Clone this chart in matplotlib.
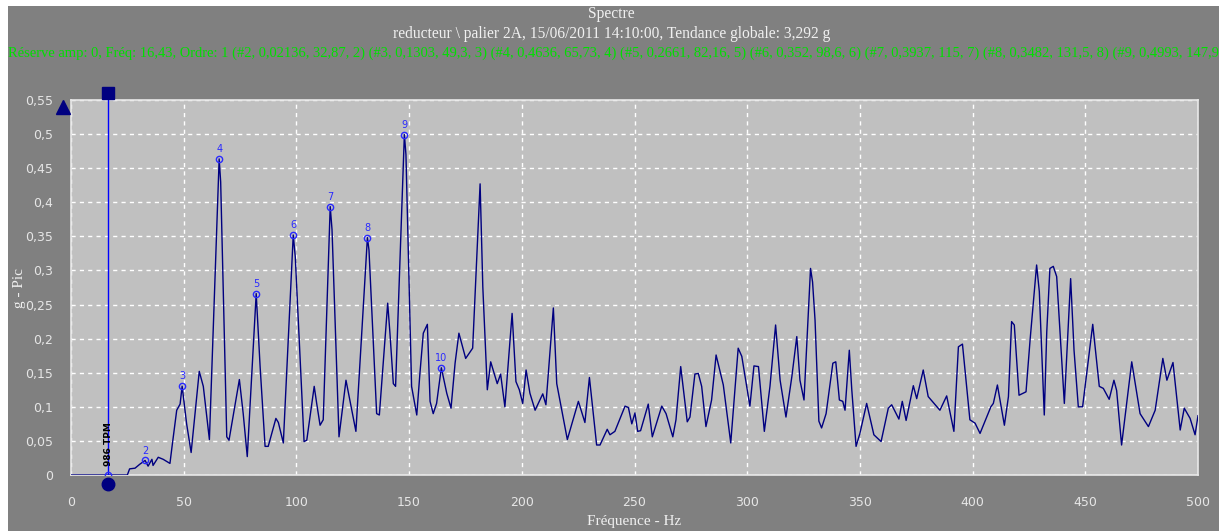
import matplotlib.pyplot as plt
from matplotlib.transforms import offset_copy

# spectrum vertices (Hz, g peak)
freq = [0, 25, 26, 28.4, 30.6, 32.87, 34.2, 35.9, 36.4, 38.7, 40.9, 43.9, 44.8, 46.9, 48.4,
        49.3, 51.3, 53.3, 56.9, 58.7, 61.4, 65.73, 66.4, 69.1, 70.1, 74.7, 76.4, 78.2, 82.16,
        83.9, 86.1, 87.5, 90.9, 92, 94.2, 98.6, 99.5, 103.4, 104.6, 107.9, 109, 110.5, 111.9,
        115, 115.8, 118.9, 122, 126.4, 131.5, 132.2, 135.6, 136.8, 140.5, 141.5, 143, 144,
        147.9, 148.6, 150.1, 151.1, 153.4, 154.8, 156.3, 158.1, 159.3, 160.7, 162.2, 164.3,
        166.7, 168.6, 170.4, 172.1, 175.1, 178.2, 181.5, 182.7, 184.7, 186.2, 189.1, 190.6,
        192.5, 195.7, 197.4, 198.9, 200.4, 201.9, 203.6, 205.9, 209.3, 210.7, 214, 215.5,
        220.2, 225.1, 228, 230, 233.2, 234.7, 237.9, 239.1, 241.3, 245.8, 247.3, 248.8, 250.2,
        251.4, 252.7, 256.1, 257.9, 262.1, 264, 267, 268.4, 270.5, 273.4, 274.6, 276.8, 278.3,
        279.8, 281.7, 284.2, 286.2, 289.4, 292.7, 296, 297.6, 301.2, 303, 305, 307.6, 310.1,
        312.6, 314.6, 317.2, 319.8, 322, 323.4, 325.2, 328.1, 329, 330.1, 331.8, 333, 335, 338,
        339.3, 340.9, 342.4, 343.4, 345.3, 346.4, 348.3, 350, 353, 356.2, 359.4, 362.6, 364.1,
        367.3, 368.8, 370.5, 373.7, 375.2, 378.1, 380.3, 385.5, 388.5, 391.7, 393.7, 395.5,
        398.8, 401.1, 403.3, 408.1, 409.2, 411, 414.1, 415.9, 417.3, 418.5, 420.6, 423.7,
        425.5, 428.4, 429.6, 431.8, 432.9, 434.3, 435.8, 437.3, 440.7, 443.5, 445, 446.9,
        448.8, 453.3, 456.2, 458, 460.6, 462.7, 463.9, 466.1, 470.6, 474.3, 478, 481, 484.4,
        486.2, 488.9, 492.1, 493.9, 496.5, 498.7, 500]
amp = [0, 0, 0.009, 0.01, 0.016, 0.02136, 0.013, 0.023, 0.014, 0.026, 0.023, 0.017, 0.041,
       0.095, 0.104, 0.1303, 0.075, 0.033, 0.152, 0.13, 0.052, 0.4636, 0.43, 0.056, 0.051,
       0.14, 0.09, 0.027, 0.2661, 0.159, 0.042, 0.042, 0.083, 0.077, 0.047, 0.352, 0.32,
       0.049, 0.051, 0.13, 0.105, 0.073, 0.081, 0.3937, 0.36, 0.056, 0.139, 0.064, 0.3482,
       0.33, 0.09, 0.088, 0.252, 0.208, 0.134, 0.13, 0.4993, 0.47, 0.266, 0.13, 0.088, 0.149,
       0.208, 0.221, 0.108, 0.09, 0.105, 0.1573, 0.12, 0.098, 0.164, 0.208, 0.171, 0.186,
       0.427, 0.276, 0.125, 0.166, 0.134, 0.148, 0.1, 0.237, 0.137, 0.125, 0.105, 0.154,
       0.12, 0.095, 0.119, 0.103, 0.245, 0.134, 0.052, 0.108, 0.077, 0.143, 0.044, 0.044,
       0.067, 0.059, 0.064, 0.101, 0.099, 0.075, 0.091, 0.064, 0.065, 0.104, 0.056, 0.101,
       0.09, 0.056, 0.081, 0.159, 0.078, 0.085, 0.148, 0.149, 0.13, 0.071, 0.11, 0.176,
       0.132, 0.047, 0.186, 0.174, 0.101, 0.16, 0.159, 0.064, 0.13, 0.22, 0.139, 0.085,
       0.144, 0.203, 0.139, 0.11, 0.303, 0.283, 0.227, 0.079, 0.069, 0.09, 0.164, 0.166,
       0.11, 0.108, 0.095, 0.183, 0.125, 0.042, 0.061, 0.105, 0.059, 0.049, 0.098, 0.103,
       0.082, 0.108, 0.08, 0.131, 0.112, 0.154, 0.115, 0.095, 0.116, 0.064, 0.188, 0.192,
       0.081, 0.076, 0.061, 0.1, 0.105, 0.132, 0.073, 0.115, 0.225, 0.22, 0.117, 0.122,
       0.198, 0.308, 0.269, 0.088, 0.21, 0.303, 0.306, 0.291, 0.105, 0.288, 0.183, 0.1,
       0.1, 0.221, 0.13, 0.127, 0.111, 0.139, 0.124, 0.044, 0.166, 0.09, 0.071, 0.095,
       0.171, 0.139, 0.165, 0.066, 0.098, 0.083, 0.059, 0.087]

# harmonic peaks: order, amplitude, frequency
peak_order = [2, 3, 4, 5, 6, 7, 8, 9, 10]
peak_amp = [0.02136, 0.1303, 0.4636, 0.2661, 0.352, 0.3937, 0.3482, 0.4993, 0.1573]
peak_freq = [32.87, 49.3, 65.73, 82.16, 98.6, 115, 131.5, 147.9, 164.3]

cursor_freq = 16.43
yticks = [0, 0.05, 0.1, 0.15, 0.2, 0.25, 0.3, 0.35, 0.4, 0.45, 0.5, 0.55]
xticks = [0, 50, 100, 150, 200, 250, 300, 350, 400, 450, 500]


def fr(v):
    return f"{v:g}".replace(".", ",")


W, H = 1223, 531
fig = plt.figure(figsize=(W / 100, H / 100), dpi=100, facecolor="white")

# grey panel behind everything, also used to clip the long info line
bg = fig.add_axes([8 / W, 0, (1219 - 8) / W, (H - 6) / H], zorder=-1)
bg.set_facecolor("#808080")
bg.set_xticks([])
bg.set_yticks([])
for s in bg.spines.values():
    s.set_visible(False)

ax = fig.add_axes([71 / W, (H - 475) / H, (1198 - 71) / W, (475 - 100) / H])
ax.set_facecolor("#c0c0c0")
for s in ax.spines.values():
    s.set_color("#e8e8e8")
    s.set_linewidth(1.2)

ax.set_xlim(0, 500)
ax.set_ylim(0, 0.55)
ax.set_xticks(xticks)
ax.set_yticks(yticks)
ax.set_xticklabels([fr(v) for v in xticks])
ax.set_yticklabels([fr(v) for v in yticks])
ax.tick_params(length=0, colors="#e6e6e6", labelsize=9)
ax.tick_params(axis="y", pad=13)
ax.tick_params(axis="x", pad=15)
ax.grid(True, color="white", linestyle=(0, (3, 3)), linewidth=1)
ax.set_axisbelow(True)

ax.plot(freq, amp, color="#000080", linewidth=1.0, zorder=3)

# harmonic markers
ax.plot(peak_freq, peak_amp, "o", ms=4.5, mfc="none", mec="#2a2aff", mew=1, zorder=4)
for n, f, a in zip(peak_order, peak_freq, peak_amp):
    ax.annotate(str(n), (f, a), xytext=(0, 3.5), textcoords="offset points",
                ha="center", va="bottom", color="#2a2aff", fontsize=7)

# frequency cursor
ax.axvline(cursor_freq, color="#0000ff", linewidth=1, zorder=5)
ax.plot([cursor_freq], [0], "o", ms=4.5, mfc="none", mec="#2a2aff", mew=1, zorder=6)
ax.plot([cursor_freq], [0.55], "s", ms=9, color="#000080", clip_on=False, zorder=6,
        transform=offset_copy(ax.transData, fig, x=0, y=7, units="dots"))
ax.plot([cursor_freq], [0], "o", ms=9, color="#000080", clip_on=False, zorder=6,
        transform=offset_copy(ax.transData, fig, x=0, y=-9, units="dots"))
ax.plot([0], [1], "^", ms=10, color="#000080", clip_on=False, zorder=6,
        transform=offset_copy(ax.transAxes, fig, x=-8, y=-7, units="dots"))
ax.text(cursor_freq, 0.045, f"{round(cursor_freq * 60)} TPM", rotation=90,
        ha="center", va="center", fontsize=6.5, color="black", family="DejaVu Sans",
        fontweight="bold", zorder=7)

serif = "Liberation Serif"
ax.set_xlabel("Fréquence - Hz", family=serif, fontsize=11, color="#f0f0f0")
ax.set_ylabel("g - Pic", family=serif, fontsize=11, color="#f0f0f0")
ax.xaxis.label.set_va("center")
ax.yaxis.label.set_va("center")
ax.xaxis.set_label_coords(0.5, -0.125)
ax.yaxis.set_label_coords(-0.0455, 0.5)

fig.text(0.5, 1 - 14 / H, "Spectre", ha="center", va="center", family=serif,
         fontsize=11.2, color="#f0f0f0")
fig.text(0.5, 1 - 34 / H,
         "reducteur \\ palier 2A, 15/06/2011 14:10:00, Tendance globale: 3,292 g",
         ha="center", va="center", family=serif, fontsize=11.2, color="#f0f0f0")

info = f"Réserve amp: 0, Fréq: {fr(cursor_freq)}, Ordre: 1"
for n, f, a in zip(peak_order, peak_freq, peak_amp):
    info += f" ({'#'}{n}, {fr(a)}, {fr(f)}, {n})"
bg.text(0, 1 - 47 / (H - 6), info, transform=bg.transAxes, ha="left", va="center",
        family=serif, fontsize=10.45, color="#00e000", clip_on=True)

fig.savefig("out.png", dpi=100, facecolor="white")
